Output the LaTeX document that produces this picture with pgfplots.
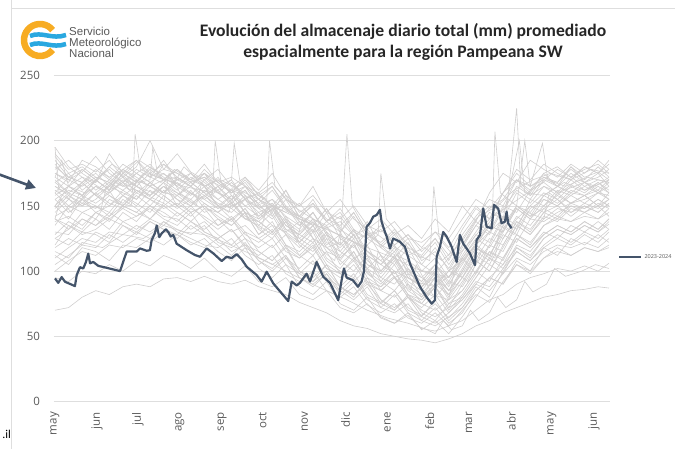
\documentclass[border=0pt]{standalone}
\usepackage{pgfplots}
\usepackage{pgfplotstable}
\pgfplotsset{compat=1.18}
\usepackage{fontspec}
\setmainfont{Carlito}
\newfontfamily\tickfont{Open Sans}
\newfontfamily\logofont{Liberation Sans}
\usetikzlibrary{arrows.meta}
\definecolor{darkline}{RGB}{68,84,106}
\definecolor{greyline}{RGB}{208,206,206}
\definecolor{ticktext}{RGB}{89,89,89}
\definecolor{gridc}{RGB}{222,222,222}
\definecolor{smnorange}{RGB}{247,172,35}
\definecolor{smnblue}{RGB}{41,168,224}

\pgfplotstableread[header=false]{
d 0 10 20 30 40 50 60 70 80 90 100 110 120 130 140 150 160 170 180 190 200 210 220 230 240 250 260 270 280 290 300 310 320 330 340 350 360 370 380 390 400 408
s1 190 178 182 176 185 172 180 200 178 175 170 182 168 172 165 160 168 155 150 158 145 140 150 135 130 138 125 122 130 118 135 150 140 160 175 165 172 168 178 170 180 172
s2 175 168 185 180 172 178 170 165 182 175 168 160 172 158 150 155 145 162 140 135 148 130 145 128 122 132 118 112 125 108 128 142 155 150 170 160 175 165 180 168 175 165
s3 160 150 158 165 160 170 165 158 168 150 162 148 145 152 140 138 130 142 125 118 130 110 120 105 100 112 95 90 102 88 110 125 118 135 150 142 148 155 145 152 148 155
s4 145 155 150 160 152 148 158 150 162 155 145 150 140 135 145 128 138 120 115 125 108 100 95 110 92 85 98 80 90 100 95 115 130 125 140 150 145 160 152 158 150 160
s5 130 128 140 135 145 138 142 148 140 135 145 130 125 132 118 112 120 105 98 108 92 85 95 80 75 85 70 65 78 62 72 88 80 100 115 108 120 128 122 130 125 132
s6 120 135 130 140 132 145 138 150 142 140 132 138 128 120 130 115 108 120 100 92 105 88 80 95 78 70 82 68 62 75 80 95 110 105 125 118 128 135 130 138 132 140
s7 70 72 80 85 82 88 90 88 94 95 92 96 92 90 93 88 85 82 76 72 68 62 58 56 52 50 48 47 45 48 52 58 62 68 72 76 80 82 85 86 88 87
s8 95 92 100 98 105 100 108 104 112 108 102 110 100 96 104 92 88 95 82 78 85 72 68 75 64 60 66 56 54 58 62 70 78 82 90 95 98 102 100 104 100 106
s9 150 165 158 170 162 175 168 180 172 165 175 168 160 155 165 150 142 155 138 130 145 125 118 130 112 105 118 100 110 95 115 130 145 140 160 152 165 158 170 162 168 160
s10 140 132 145 150 142 155 148 140 152 145 138 148 135 142 130 125 132 118 110 120 102 95 105 90 85 95 80 75 88 72 90 108 100 118 135 128 142 138 148 145 150 142
s11 195 180 172 168 190 175 185 172 178 190 176 170 178 165 172 162 175 158 150 165 145 155 140 132 140 128 135 125 140 130 150 138 160 175 168 185 178 172 182 175 185 178
s12 165 158 150 155 165 160 155 168 160 158 150 162 155 148 140 145 135 130 138 125 118 122 110 115 105 98 108 95 88 100 108 120 135 130 148 140 155 150 160 158 162 155
s13 110 118 125 122 130 128 135 130 138 132 128 135 122 118 125 110 105 112 98 92 100 88 82 90 78 72 80 70 65 72 78 90 85 98 110 105 115 120 118 122 118 125
s14 175 170 165 172 168 162 170 165 160 168 160 155 162 150 155 145 150 138 130 140 125 118 128 112 105 115 100 95 105 92 110 98 120 140 132 155 150 162 158 165 160 168
s15 135 150 145 140 155 150 160 155 165 160 152 158 150 145 155 140 148 132 128 122 135 115 108 120 100 110 95 88 98 85 100 118 112 130 148 140 150 158 152 155 160 158
s16 125 120 130 128 122 135 130 125 138 130 125 120 118 125 112 105 112 98 92 100 85 80 88 74 68 75 64 60 68 58 70 82 76 92 105 98 110 118 112 118 115 120
s17 160 172 168 175 165 178 172 165 170 178 170 165 170 162 168 155 165 148 142 150 138 145 130 125 132 120 128 118 130 125 140 155 148 160 170 165 170 178 172 180 175 182
s18 140 135 128 132 140 135 128 138 132 125 135 128 120 112 122 108 100 110 95 88 98 82 92 78 72 82 68 62 72 60 68 85 95 90 108 100 118 112 125 120 128 122
s19 170 160 168 158 165 172 160 168 175 165 158 170 160 152 162 148 140 150 135 145 130 120 132 115 108 120 102 92 105 95 112 128 122 142 135 150 160 155 165 160 168 162
s20 100 108 115 112 120 118 125 122 130 128 120 125 115 108 118 102 95 105 88 82 92 75 70 80 65 60 68 55 62 52 65 80 95 105 118 112 125 132 128 135 130 138
s21 155 145 152 148 158 152 162 155 150 158 165 155 148 158 145 138 148 130 122 135 118 108 122 100 92 105 88 80 95 85 98 115 108 128 122 140 138 145 150 148 155 150
s22 168 175 162 170 178 168 175 182 170 172 165 175 168 160 170 158 150 162 145 152 140 135 145 128 120 130 115 110 122 105 120 138 130 150 145 162 168 160 172 165 170 168
s23 138 142 135 145 140 148 142 150 145 138 148 142 135 140 128 122 130 115 110 118 102 98 108 92 88 96 82 78 88 75 85 100 115 110 128 122 135 140 138 142 140 145
s24 150 140 155 145 150 158 152 145 158 150 142 152 145 138 148 132 125 138 120 112 125 105 115 98 90 100 85 78 90 82 95 110 125 120 138 132 145 150 142 150 145 152
s25 182 170 176 188 175 168 178 172 185 170 165 175 160 168 158 152 162 148 140 152 138 130 142 125 118 128 112 105 118 100 118 135 128 148 162 155 170 165 175 168 172 178
s26 158 165 172 162 170 165 175 168 160 172 165 158 165 155 162 148 155 140 132 145 128 120 132 112 105 118 98 92 105 90 105 122 135 130 150 142 158 152 162 158 165 160
s27 128 138 132 145 138 150 145 140 150 142 150 140 132 140 125 118 125 110 102 112 95 88 98 82 76 85 72 66 75 64 75 90 105 98 118 110 125 132 128 135 130 136
s28 172 165 178 170 162 175 168 178 170 162 172 165 155 162 150 142 152 135 128 140 122 115 128 108 100 112 95 88 100 85 102 120 112 132 150 145 158 165 160 168 162 170
s29 118 125 120 130 125 138 132 140 135 145 138 132 140 130 135 125 118 128 112 105 115 98 92 102 85 80 90 75 70 78 85 100 92 110 125 118 130 125 135 130 138 132
s30 185 172 168 178 170 182 175 168 160 170 175 165 170 160 165 155 148 158 142 135 148 132 125 138 118 110 122 105 98 110 125 140 150 145 165 158 172 168 180 172 176 170
s31 148 158 152 160 168 158 165 158 168 160 155 165 150 158 145 140 150 132 125 135 118 112 125 105 98 110 92 85 98 80 95 112 105 125 142 135 148 142 152 148 155 150
s32 162 155 168 158 150 162 155 165 158 150 160 152 145 155 140 135 145 128 118 130 110 102 115 95 88 100 82 75 88 70 82 98 115 108 128 120 135 142 138 145 140 148
s33 105 112 120 118 128 122 130 138 132 128 138 130 125 132 120 115 108 118 100 95 105 88 82 92 75 70 80 65 60 68 78 92 88 102 115 108 118 125 120 128 122 130
s34 178 185 175 168 180 172 165 175 182 172 165 178 168 160 172 158 165 150 142 155 138 148 132 125 135 120 128 115 125 112 132 148 140 160 178 170 182 175 170 180 175 185
s35 142 148 155 150 145 158 150 162 155 148 155 145 150 140 148 135 128 138 122 115 128 108 100 112 95 90 102 85 80 92 88 105 120 115 135 128 140 148 145 150 145 152
s36 168 160 155 165 158 150 162 158 165 155 150 158 148 152 142 138 130 140 122 132 115 110 120 102 95 108 90 82 95 78 92 108 100 120 138 130 145 140 150 145 152 148
s37 125 132 140 135 142 150 145 155 148 152 145 150 142 135 145 128 135 120 112 122 105 98 110 92 85 95 80 72 82 68 80 95 110 102 120 115 128 135 130 138 132 140
s38 188 175 180 172 168 178 185 175 170 178 168 172 162 170 155 160 150 145 152 140 135 142 128 132 120 115 125 108 115 102 120 135 148 155 170 162 175 180 172 178 182 175
s39 112 105 118 115 108 120 118 125 120 128 122 118 125 115 120 108 102 112 95 90 98 85 78 88 72 68 75 62 58 65 72 85 95 90 105 100 110 115 112 118 115 118
s40 155 162 158 152 160 168 162 155 165 158 168 160 152 148 158 142 150 135 128 138 120 128 110 102 112 95 100 88 95 82 100 118 110 135 128 148 155 150 158 152 160 155
}\rawtable
\pgfplotstabletranspose[colnames from=0]{\histtable}{\rawtable}

\begin{document}
\begin{tikzpicture}
% frame lines
\draw[gridc, line width=0.8pt] (11pt,449pt) -- (11pt,0pt);
\draw[gridc, line width=0.8pt] (11pt,441pt) -- (675pt,441pt);
% logo
\draw[smnorange, line width=6.5pt] (40pt,409pt) ++(38:16pt) arc[start angle=38, end angle=322, radius=16pt];
\draw[smnblue, line width=4.5pt] (30pt,413pt) .. controls (42pt,418pt) and (52pt,409pt) .. (66pt,414pt);
\draw[smnblue, line width=4.5pt] (30pt,404pt) .. controls (42pt,409pt) and (52pt,400pt) .. (66pt,405pt);
\node[anchor=base west, inner sep=0pt, font=\logofont\fontsize{11.5}{12}\selectfont, text=ticktext] at (69pt,413pt) {Servicio};
\node[anchor=base west, inner sep=0pt, font=\logofont\fontsize{11.5}{12}\selectfont, text=ticktext] at (69pt,402pt) {Meteorológico};
\node[anchor=base west, inner sep=0pt, font=\logofont\fontsize{11.5}{12}\selectfont, text=ticktext] at (69pt,391pt) {Nacional};
% title
\node[align=center, font=\bfseries\fontsize{17.6}{21}\selectfont, text=black!85] at (403pt,407pt) {Evolución del almacenaje diario total (mm) promediado\\espacialmente para la región Pampeana SW};
% arrow
\draw[darkline, line width=2.6pt, -{Triangle[length=10pt,width=10pt]}] (-2pt,275pt) -- (36pt,261pt);
% cut text
\node[anchor=base east, inner sep=0pt, font=\fontsize{12}{12}\selectfont] at (11pt,10pt) {.il};

\begin{axis}[
  at={(53.64pt,47.5pt)}, anchor=south west,
  scale only axis, width=556.7pt, height=326pt,
  xmin=-1, xmax=409, ymin=0, ymax=250,
  xtick={0,31,61,92,123,153,184,214,245,276,305,336,366,397},
  xticklabels={may,jun,jul,ago,sep,oct,nov,dic,ene,feb,mar,abr,may,jun},
  ytick={0,50,100,150,200,250},
  ymajorgrids, major grid style={gridc, line width=0.7pt},
  axis line style={draw=none},
  tick style={draw=none},
  /pgf/number format/assume math mode=true,
  yticklabel style={font=\tickfont\fontsize{11.5}{12}\selectfont, text=ticktext, anchor=east, inner sep=0pt, xshift=-13.5pt},
  xticklabel style={yshift=-10.5pt, rotate=90, anchor=east, inner sep=0pt, font=\tickfont\fontsize{11.5}{12}\selectfont, text=ticktext},
  legend style={at={(1.014,0.443)}, anchor=west, draw=none, fill=none, font=\tickfont\fontsize{5.5}{6}\selectfont\color{ticktext}, inner sep=0pt},
  legend image code/.code={\draw[#1] (0pt,0pt) -- (22pt,0pt);},
]
\pgfplotsinvokeforeach{1,...,40}{
  \addplot[greyline, line width=0.6pt, forget plot] table[x=d, y=s#1] {\histtable};
}
\addplot[greyline, line width=0.6pt, forget plot] coordinates {(0,195)(3,160)(10,165)(20,158)(30,170)(40,162)(50,168)(57,160)(59,205)(63,178)(75,172)(88,168)(95,180)(105,170)(115,162)(125,158)(132,165)(140,155)(150,148)(160,152)(170,142)(180,135)(190,145)(200,128)(210,120)(215,205)(219,150)(230,130)(245,115)(260,108)(270,100)(285,95)(300,110)(315,130)(325,145)(332,140)(340,225)(343,165)(350,158)(360,165)(372,160)(385,170)(398,165)(408,172)};
\addplot[greyline, line width=0.6pt, forget plot] coordinates {(0,150)(8,158)(15,150)(25,162)(35,155)(45,170)(55,162)(65,175)(78,168)(88,178)(100,170)(110,175)(120,165)(130,170)(132,198)(136,170)(145,160)(156,155)(158,200)(162,165)(175,150)(190,140)(205,130)(220,122)(235,112)(250,100)(265,92)(280,88)(295,100)(310,120)(322,138)(324,207)(328,160)(340,150)(346,200)(350,165)(359,198)(363,170)(375,162)(390,168)(400,160)(408,165)};
\addplot[greyline, line width=0.6pt, forget plot] coordinates {(0,180)(10,172)(20,178)(30,170)(42,182)(52,175)(62,185)(72,178)(85,172)(98,168)(110,172)(122,165)(135,160)(148,150)(160,155)(172,145)(185,140)(198,132)(210,138)(222,125)(235,130)(248,120)(260,112)(272,118)(285,108)(298,120)(312,142)(326,150)(338,162)(352,170)(365,175)(380,170)(395,178)(408,175)};
\addplot[greyline, line width=0.6pt, forget plot] coordinates {(0,165)(12,158)(24,170)(36,162)(48,175)(60,165)(72,160)(84,172)(96,162)(108,155)(120,165)(132,150)(144,158)(156,145)(168,150)(180,138)(192,130)(204,142)(216,125)(228,118)(238,128)(240,175)(244,140)(256,125)(268,112)(276,108)(279,165)(283,125)(295,110)(308,125)(320,140)(334,150)(348,160)(362,170)(376,165)(392,172)(408,168)};
\addplot[greyline, line width=0.6pt, forget plot] coordinates {(0,172)(5,185)(10,165)(22,160)(35,175)(50,165)(70,170)(72,195)(76,172)(95,165)(116,160)(118,200)(122,170)(140,160)(160,150)(180,140)(200,132)(225,120)(250,110)(265,102)(290,95)(305,115)(318,128)(330,140)(342,200)(346,160)(360,158)(375,168)(390,162)(408,170)};
\addplot[greyline, line width=0.6pt, forget plot] coordinates {(0,140)(4,155)(12,145)(18,160)(26,150)(34,148)(38,165)(46,152)(56,150)(60,170)(68,158)(80,152)(84,175)(92,160)(104,150)(108,168)(118,152)(128,145)(132,160)(142,140)(152,132)(156,150)(166,132)(178,122)(182,140)(194,118)(206,108)(210,130)(222,108)(234,95)(238,115)(250,95)(262,85)(266,105)(278,82)(290,78)(294,100)(304,92)(314,115)(324,110)(328,135)(338,128)(348,145)(360,140)(364,160)(376,150)(390,158)(400,150)(408,155)};
\addplot[greyline, line width=0.6pt, forget plot] coordinates {(0,115)(10,110)(20,122)(35,118)(50,128)(65,125)(80,135)(95,130)(110,128)(125,122)(140,115)(155,108)(170,100)(185,92)(200,85)(215,78)(230,70)(245,64)(260,60)(272,56)(280,52)(286,62)(292,55)(300,58)(306,70)(312,62)(320,68)(326,80)(332,72)(340,78)(346,92)(352,84)(362,90)(368,102)(376,96)(388,100)(398,105)(408,102)};
\addplot[darkline, line width=2.2pt, line join=round] coordinates {(0,94.4)(2.4,91)(4.9,95.4)(7.4,91.8)(14.7,88.5)(16,97)(18.4,103)(20.8,102)(22.8,107)(24.5,113.4)(25.8,106)(28.2,107)(31.9,104)(38.1,102.5)(47.9,100)(52.8,115)(60.2,115)(62.6,117.4)(67.5,115.6)(69.9,116)(71.2,123.8)(73.6,129)(74.9,135)(76.8,126)(78.6,129)(81.7,132)(83.4,130)(85.2,126.5)(87.1,127.7)(89.6,121)(97,116)(103.1,112.3)(106.8,111)(111.7,117.4)(116.6,113.6)(122.8,107.7)(126.4,111)(130.1,110)(133.8,113)(137.5,109)(141.2,103.3)(148.5,97)(152.2,92)(155.9,99.5)(160.8,90.5)(171.8,77)(174.3,92)(178,89)(180.4,91)(185.3,98)(187.8,92)(192.7,107)(197.6,95.6)(202.5,91)(208.6,77.7)(211.1,93)(212.8,102)(214.8,95)(219.4,93)(223.1,88)(225.8,92)(227.5,99.5)(229.5,134)(232,137)(234.4,141.8)(236.9,143)(239.3,147)(240.5,138)(243,130)(244.3,126.5)(246.7,117.4)(249.1,125)(254,122.5)(257.7,118.7)(261.4,105.9)(268.8,88)(273.7,80)(277.4,75)(279.8,77.7)(281.1,111)(283.5,118.7)(285.9,130)(288.4,126.5)(292.1,118.7)(295.8,107)(298.2,127.7)(300.7,121)(305.6,113.6)(309.3,104.6)(310.5,123.8)(313,127.7)(315.4,148)(317.9,134)(321.6,132.8)(323.3,150.7)(326.4,148)(328.9,136.6)(331.4,138)(332.6,145.6)(333.8,136.6)(336.3,132.8)};
\addlegendentry{2023-2024}
\end{axis}
\pgfresetboundingbox
\useasboundingbox (0pt,0pt) rectangle (675pt,449pt);
\end{tikzpicture}
\end{document}
